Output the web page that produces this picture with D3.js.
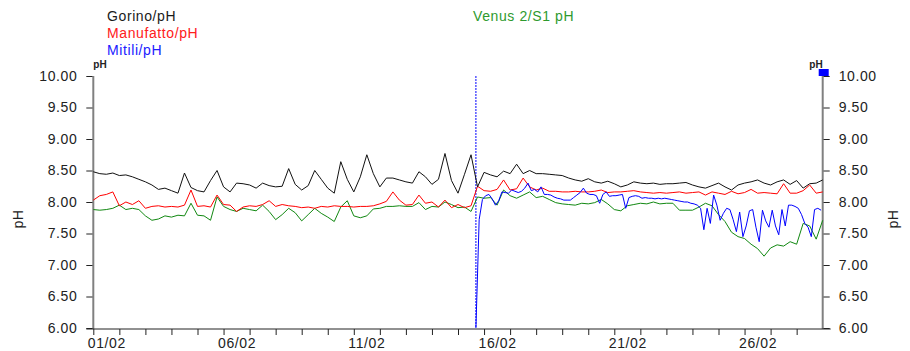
<!DOCTYPE html>
<html>
<head>
<meta charset="utf-8">
<script src="https://cdn.jsdelivr.net/npm/d3@7"></script>
<style>
  body { margin: 0; background: #fff; }
  svg { display: block; font-family: "Liberation Sans", Arial, sans-serif; }
</style>
</head>
<body>
<svg id="chart" width="910" height="351"></svg>
<script>
// pH readings, 6-hour steps from 01/02 00:00
const gorino = [
  8.48, 8.45, 8.44, 8.46, 8.42, 8.43, 8.40, 8.36, 8.32, 8.27, 8.20, 8.22, 8.18, 8.14, 8.46, 8.23,
  8.18, 8.16, 8.34, 8.50, 8.24, 8.16, 8.30, 8.29, 8.27, 8.22, 8.30, 8.26, 8.24, 8.25, 8.53, 8.28,
  8.19, 8.26, 8.50, 8.36, 8.22, 8.14, 8.64, 8.36, 8.16, 8.40, 8.75, 8.45, 8.24, 8.38, 8.38, 8.35,
  8.32, 8.30, 8.48, 8.40, 8.28, 8.36, 8.77, 8.34, 8.14, 8.44, 8.75, 8.24, 8.47, 8.43, 8.40, 8.49,
  8.45, 8.60, 8.45, 8.50, 8.45, 8.45, 8.44, 8.43, 8.42, 8.38, 8.35, 8.33, 8.37, 8.32, 8.30, 8.33,
  8.29, 8.24, 8.27, 8.32, 8.30, 8.29, 8.30, 8.28, 8.29, 8.29, 8.30, 8.31, 8.27, 8.24, 8.22, 8.26,
  8.30, 8.24, 8.19, 8.27, 8.30, 8.32, 8.35, 8.30, 8.27, 8.32, 8.35, 8.28, 8.34, 8.22, 8.29, 8.30,
  8.35
];
const manufatto = [
  8.03, 8.10, 8.12, 8.16, 7.94, 8.00, 7.96, 8.02, 7.90, 7.93, 7.94, 7.92, 7.93, 7.92, 7.95, 8.19,
  7.93, 7.94, 7.92, 8.11, 7.96, 7.95, 7.85, 7.92, 7.94, 7.93, 7.96, 8.02, 7.93, 7.96, 7.94, 7.93,
  7.91, 7.92, 7.90, 7.93, 7.92, 7.94, 7.93, 7.93, 7.92, 7.93, 7.93, 7.94, 7.97, 8.01, 8.16, 8.03,
  7.95, 7.96, 8.11, 7.98, 8.00, 7.92, 8.03, 7.91, 7.96, 7.91, 7.94, 8.25, 8.18, 8.17, 8.20, 8.35,
  8.19, 8.21, 8.38, 8.24, 8.19, 8.22, 8.17, 8.17, 8.16, 8.16, 8.17, 8.16, 8.16, 8.17, 8.19, 8.15,
  8.16, 8.16, 8.17, 8.18, 8.16, 8.15, 8.14, 8.15, 8.14, 8.15, 8.16, 8.14, 8.15, 8.16, 8.11, 8.16,
  8.14, 8.12, 8.17, 8.13, 8.15, 8.20, 8.14, 8.15, 8.14, 8.13, 8.29, 8.14, 8.14, 8.18, 8.27, 8.14,
  8.16
];
const venus = [
  7.88, 7.87, 7.88, 7.90, 7.95, 7.88, 7.90, 7.88, 7.78, 7.71, 7.73, 7.78, 7.76, 7.79, 7.78, 7.98,
  7.79, 7.78, 7.71, 8.08, 7.93, 7.88, 7.85, 7.90, 7.88, 7.86, 7.95, 7.85, 7.72, 7.80, 7.90, 7.83,
  7.70, 7.80, 7.90, 7.82, 7.76, 7.69, 7.92, 8.02, 7.78, 7.75, 7.78, 7.89, 7.90, 7.93, 7.93, 7.94,
  7.93, 7.93, 7.99, 7.88, 7.93, 7.92, 8.00, 7.96, 7.91, 7.92, 7.85, 8.08, 8.06, 8.07, 7.95, 8.19,
  8.10, 8.06, 8.11, 8.16, 8.07, 8.09, 8.04, 7.99, 7.97, 7.96, 7.95, 7.98, 7.97, 7.99, 8.04, 7.97,
  7.88, 7.86, 7.94, 7.96, 7.98, 7.97, 8.00, 7.97, 7.98, 7.98, 7.87, 7.87, 7.87, 7.92, 7.98, 7.94,
  7.80, 7.69, 7.52, 7.45, 7.42, 7.33, 7.26, 7.14, 7.27, 7.32, 7.30, 7.37, 7.33, 7.66, 7.62, 7.41,
  7.71
];
// Mitili probe, 3-hour steps from 15/02 16:30
const mitili = [
  6.00, 7.72, 8.04, 8.10, 8.12, 8.05, 7.95, 8.02, 8.16, 8.15, 8.14, 8.19, 8.17, 8.15, 8.17, 8.22,
  8.30, 8.18, 8.20, 8.16, 8.24, 8.12, 8.12, 8.11, 8.08, 8.06, 8.05, 8.03, 8.03, 8.03, 8.07, 8.11,
  8.15, 8.22, 8.14, 8.12, 8.12, 8.10, 7.98, 8.12, 8.16, 8.09, 8.10, 8.10, 8.11, 8.12, 7.90, 8.07,
  8.09, 8.10, 8.09, 8.06, 8.07, 8.06, 8.06, 8.05, 8.06, 8.05, 8.06, 8.05, 8.04, 8.03, 8.02, 8.01,
  8.00, 8.00, 7.98, 7.97, 7.95, 7.90, 7.56, 7.90, 7.66, 8.11, 7.95, 7.71, 7.82, 7.90, 7.88, 7.72,
  7.53, 7.84, 7.45, 7.62, 7.86, 7.88, 7.60, 7.37, 7.87, 7.70, 7.60, 7.87, 7.62, 7.48, 7.88, 7.62,
  7.95, 7.95, 7.93, 7.90, 7.80, 7.66, 7.60, 7.45, 7.88, 7.90, 7.87
];

const legendNames = ["Gorino/pH", "Manufatto/pH", "Mitili/pH"];
const legendColors = ["#1a1a1a", "#ff2020", "#2020ff"];
const titleText = "Venus 2/S1 pH";
const yTicks = [6.0, 6.5, 7.0, 7.5, 8.0, 8.5, 9.0, 9.5, 10.0];
const axisUnit = "pH";

const start = new Date(Date.UTC(2023, 1, 1));
const end = new Date(Date.UTC(2023, 2, 1));
const mitiliStart = new Date(Date.UTC(2023, 1, 15, 16, 30));

const svg = d3.select("#chart");
const plotLeft = 93.3, plotRight = 822.7, plotTop = 76, plotBottom = 328;

const x = d3.scaleUtc().domain([start, end]).range([plotLeft, plotRight]);
const y = d3.scaleLinear().domain([6, 10]).range([plotBottom, plotTop]);

function series(values, t0, stepHours) {
  return values.map((v, i) => ({ t: d3.utcHour.offset(t0, i * stepHours), v }));
}

const txt = sel => sel.attr("font-size", 14).attr("letter-spacing", 0.6).attr("fill", "#222");

// Left axis
const yl = svg.append("g").attr("transform", `translate(${plotLeft},0)`)
  .call(d3.axisLeft(y).tickValues(yTicks).tickFormat(d3.format(".2f")).tickSize(7).tickPadding(9));
yl.select(".domain").remove();
yl.selectAll("line").attr("stroke", "#222");
yl.selectAll("text").call(txt);
svg.append("line").attr("x1", plotLeft).attr("x2", plotLeft).attr("y1", plotTop).attr("y2", plotBottom + 1)
  .attr("stroke", "#808080").attr("stroke-width", 2);

// Right axis
const yr = svg.append("g").attr("transform", `translate(${plotRight},0)`)
  .call(d3.axisRight(y).tickValues(yTicks).tickFormat(d3.format(".2f")).tickSize(7).tickPadding(9));
yr.select(".domain").remove();
yr.selectAll("line").attr("stroke", "#222");
yr.selectAll("text").call(txt);
svg.append("line").attr("x1", plotRight).attr("x2", plotRight).attr("y1", plotTop).attr("y2", plotBottom + 1)
  .attr("stroke", "#808080").attr("stroke-width", 2);

// Time axis
const days = d3.utcDay.range(start, end);
const xa = svg.append("g").attr("transform", `translate(0,${plotBottom + 1})`)
  .call(d3.axisBottom(x).tickValues(days).tickSize(6).tickPadding(3)
    .tickFormat(d => ((d.getUTCDate() - 1) % 5 === 0 ? d3.utcFormat("%d/%m")(d) : "")));
xa.select(".domain").remove();
xa.selectAll("line").attr("stroke", "#222");
xa.selectAll("text").call(txt).attr("text-anchor", "start").attr("dx", -6);
svg.append("line").attr("x1", plotLeft - 7).attr("x2", plotRight + 8)
  .attr("y1", plotBottom + 1).attr("y2", plotBottom + 1).attr("stroke", "#222");

// Unit labels
svg.append("text").attr("x", plotLeft).attr("y", 68).attr("font-size", 10).attr("font-weight", "bold")
  .attr("fill", "#222").text(axisUnit);
svg.append("text").attr("x", plotRight).attr("y", 68).attr("font-size", 10).attr("font-weight", "bold")
  .attr("text-anchor", "end").attr("fill", "#222").text(axisUnit);
svg.append("text").attr("transform", "translate(23,219) rotate(-90)").attr("text-anchor", "middle")
  .call(txt).text(axisUnit);
svg.append("text").attr("transform", "translate(898,219) rotate(-90)").attr("text-anchor", "middle")
  .call(txt).text(axisUnit);
svg.append("rect").attr("x", plotRight - 4).attr("y", 69).attr("width", 10).attr("height", 7)
  .attr("fill", "#0000ff");

// Event marker when the Mitili probe comes online
svg.append("line").attr("x1", x(mitiliStart)).attr("x2", x(mitiliStart))
  .attr("y1", y(10)).attr("y2", y(6)).attr("stroke", "#0000ff").attr("stroke-width", 1)
  .attr("stroke-dasharray", "2,1");

// Lines
const line = d3.line().x(d => x(d.t)).y(d => y(d.v));
const plots = [
  { data: series(venus, start, 6), color: "#118811" },
  { data: series(manufatto, start, 6), color: "#ff0000" },
  { data: series(gorino, start, 6), color: "#111111" },
  { data: series(mitili, mitiliStart, 3), color: "#0000ff" }
];
plots.forEach(p => {
  svg.append("path").datum(p.data).attr("d", line).attr("fill", "none")
    .attr("stroke", p.color).attr("stroke-width", 1).attr("stroke-linejoin", "round");
});

// Legend and title
legendNames.forEach((name, i) => {
  svg.append("text").attr("x", 107).attr("y", 21 + i * 17).call(txt)
    .attr("fill", legendColors[i]).text(name);
});
svg.append("text").attr("x", 473).attr("y", 21).call(txt).attr("fill", "#2e9a2e").text(titleText);
</script>
</body>
</html>
